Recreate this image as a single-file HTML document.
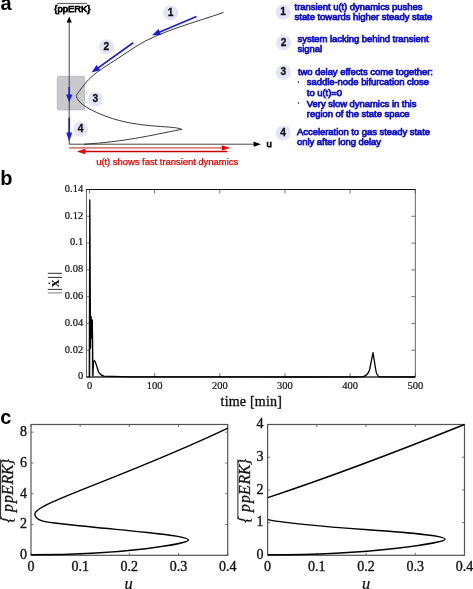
<!DOCTYPE html>
<html><head><meta charset="utf-8"><style>
html,body{margin:0;padding:0;background:#fff;width:473px;height:589px;overflow:hidden}
#w{will-change:transform;width:473px;height:589px}
svg{display:block}
</style></head><body><div id="w">
<svg width="473" height="589" viewBox="0 0 473 589">
<text x="0.5" y="9.8" style="font-family:'Liberation Sans',sans-serif;font-weight:bold;font-size:20px" fill="#000">a</text>
<text x="0.3" y="184.6" style="font-family:'Liberation Sans',sans-serif;font-weight:bold;font-size:20px" fill="#000">b</text>
<text x="0.3" y="424.3" style="font-family:'Liberation Sans',sans-serif;font-weight:bold;font-size:20px" fill="#000">c</text>
<rect x="57.3" y="76.3" width="27.4" height="33.6" rx="1.5" fill="#c9c9cc" stroke="#b0b0b8" stroke-width="0.7"/>
<line x1="69.2" y1="21" x2="69.2" y2="144.3" stroke="#333" stroke-width="0.9"/>
<path d="M69.2,16.6 L66.6,22.6 L71.8,22.6 Z" fill="#000"/>
<line x1="69.2" y1="144.2" x2="255" y2="144.2" stroke="#333" stroke-width="0.9"/>
<path d="M261,144.2 L253.6,141.6 L253.6,146.8 Z" fill="#000"/>
<text x="266.5" y="147.3" style="font-family:'Liberation Sans',sans-serif;font-weight:normal;letter-spacing:-0.05px;stroke-width:0.75px;font-size:9.5px" fill="#000" stroke="#000">u</text>
<text x="54.3" y="12.1" style="font-family:'Liberation Sans',sans-serif;font-weight:normal;letter-spacing:-0.05px;stroke-width:0.75px;font-size:9.5px" fill="#000" stroke="#000">{ppERK}</text>
<line x1="57" y1="3.5" x2="87" y2="3.5" stroke="#666" stroke-width="1.2"/>
<path d="M223.60,12.40 C199.10,21.22 158.37,31.45 135.00,47.10 C93.99,74.57 92.49,72.08 76.30,95.50 C77.45,101.48 83.19,106.61 99.20,113.60 C135.25,129.34 171.29,124.76 181.80,129.30" fill="none" stroke="#222" stroke-width="0.9"/>
<path d="M181.80,129.30 C147.15,136.19 124.87,141.56 84.00,144.20" fill="none" stroke="#222" stroke-width="0.9"/>
<line x1="196.50" y1="16.50" x2="157.48" y2="32.98" stroke="#1c1cd4" stroke-width="1.7"/><path d="M152.00,35.30 L158.57,29.00 L161.09,34.99 Z" fill="#1c1cd4"/>
<line x1="133.20" y1="42.70" x2="96.34" y2="69.13" stroke="#1c1cd4" stroke-width="1.7"/><path d="M91.50,72.60 L96.51,65.01 L100.30,70.29 Z" fill="#1c1cd4"/>
<line x1="69.20" y1="87.00" x2="69.20" y2="97.00" stroke="#1c1cd4" stroke-width="1.7"/><path d="M69.20,102.60 L66.05,94.60 L72.35,94.60 Z" fill="#1c1cd4"/>
<line x1="69.20" y1="117.80" x2="69.20" y2="135.10" stroke="#1c1cd4" stroke-width="1.7"/><path d="M69.20,141.40 L66.20,132.40 L72.20,132.40 Z" fill="#1c1cd4"/>
<line x1="69" y1="147.9" x2="224" y2="147.9" stroke="#d88282" stroke-width="1.7"/>
<path d="M230.4,147.9 L221.8,145.2 L221.8,150.6 Z" fill="#f00000"/>
<line x1="83" y1="151.5" x2="227" y2="151.5" stroke="#c80000" stroke-width="1.7"/>
<path d="M76.8,151.5 L85,148.7 L85,154.3 Z" fill="#f00000"/>
<text x="96.2" y="165.4" style="font-family:'Liberation Sans',sans-serif;font-weight:normal;letter-spacing:-0.05px;stroke-width:0.75px;font-size:9.5px;stroke-width:0.25px;letter-spacing:-0.05px" fill="#e00000" stroke="#e00000">u(t) shows fast transient dynamics</text>
<circle cx="170.6" cy="12.7" r="7.5" fill="#e4e4f6"/><text x="170.6" y="15.7" text-anchor="middle" style="font-family:'Liberation Sans',sans-serif;font-weight:bold;font-size:10.2px;stroke-width:0.3px" fill="#111" stroke="#111">1</text>
<circle cx="106.4" cy="46.7" r="7.5" fill="#e4e4f6"/><text x="106.4" y="49.7" text-anchor="middle" style="font-family:'Liberation Sans',sans-serif;font-weight:bold;font-size:10.2px;stroke-width:0.3px" fill="#111" stroke="#111">2</text>
<circle cx="95.4" cy="99" r="7.5" fill="#e4e4f6"/><text x="95.4" y="102.0" text-anchor="middle" style="font-family:'Liberation Sans',sans-serif;font-weight:bold;font-size:10.2px;stroke-width:0.3px" fill="#111" stroke="#111">3</text>
<circle cx="80.5" cy="129.2" r="7.5" fill="#e4e4f6"/><text x="80.5" y="132.2" text-anchor="middle" style="font-family:'Liberation Sans',sans-serif;font-weight:bold;font-size:10.2px;stroke-width:0.3px" fill="#111" stroke="#111">4</text>
<circle cx="283.2" cy="12.2" r="7.5" fill="#e4e4f6"/><text x="283.2" y="15.2" text-anchor="middle" style="font-family:'Liberation Sans',sans-serif;font-weight:bold;font-size:10.2px;stroke-width:0.3px" fill="#111" stroke="#111">1</text>
<circle cx="283.5" cy="42.7" r="7.5" fill="#e4e4f6"/><text x="283.5" y="45.7" text-anchor="middle" style="font-family:'Liberation Sans',sans-serif;font-weight:bold;font-size:10.2px;stroke-width:0.3px" fill="#111" stroke="#111">2</text>
<circle cx="283.4" cy="72.4" r="7.5" fill="#e4e4f6"/><text x="283.4" y="75.4" text-anchor="middle" style="font-family:'Liberation Sans',sans-serif;font-weight:bold;font-size:10.2px;stroke-width:0.3px" fill="#111" stroke="#111">3</text>
<circle cx="283.2" cy="132.9" r="7.5" fill="#e4e4f6"/><text x="283.2" y="135.9" text-anchor="middle" style="font-family:'Liberation Sans',sans-serif;font-weight:bold;font-size:10.2px;stroke-width:0.3px" fill="#111" stroke="#111">4</text>
<text x="294.6" y="10.1" style="font-family:'Liberation Sans',sans-serif;font-weight:normal;letter-spacing:-0.05px;stroke-width:0.75px;font-size:9.5px" fill="#1414c8" stroke="#1414c8">transient u(t) dynamics pushes</text>
<text x="294.6" y="20.1" style="font-family:'Liberation Sans',sans-serif;font-weight:normal;letter-spacing:-0.05px;stroke-width:0.75px;font-size:9.5px" fill="#1414c8" stroke="#1414c8">state towards higher steady state</text>
<text x="297.6" y="41.6" style="font-family:'Liberation Sans',sans-serif;font-weight:normal;letter-spacing:-0.05px;stroke-width:0.75px;font-size:9.5px" fill="#1414c8" stroke="#1414c8">system lacking behind transient</text>
<text x="297.6" y="51.6" style="font-family:'Liberation Sans',sans-serif;font-weight:normal;letter-spacing:-0.05px;stroke-width:0.75px;font-size:9.5px" fill="#1414c8" stroke="#1414c8">signal</text>
<text x="297.9" y="74.8" style="font-family:'Liberation Sans',sans-serif;font-weight:normal;letter-spacing:-0.05px;stroke-width:0.75px;font-size:9.5px" fill="#1414c8" stroke="#1414c8">two delay effects come together:</text>
<text x="306.8" y="85.4" style="font-family:'Liberation Sans',sans-serif;font-weight:normal;letter-spacing:-0.05px;stroke-width:0.75px;font-size:9.5px" fill="#1414c8" stroke="#1414c8">saddle-node bifurcation close</text>
<text x="306.8" y="95.5" style="font-family:'Liberation Sans',sans-serif;font-weight:normal;letter-spacing:-0.05px;stroke-width:0.75px;font-size:9.5px" fill="#1414c8" stroke="#1414c8">to u(t)=0</text>
<text x="306.8" y="106.8" style="font-family:'Liberation Sans',sans-serif;font-weight:normal;letter-spacing:-0.05px;stroke-width:0.75px;font-size:9.5px" fill="#1414c8" stroke="#1414c8">Very slow dynamics in this</text>
<text x="306.8" y="116.7" style="font-family:'Liberation Sans',sans-serif;font-weight:normal;letter-spacing:-0.05px;stroke-width:0.75px;font-size:9.5px" fill="#1414c8" stroke="#1414c8">region of the state space</text>
<text x="297.0" y="135.3" style="font-family:'Liberation Sans',sans-serif;font-weight:normal;letter-spacing:-0.05px;stroke-width:0.75px;font-size:9.5px" fill="#1414c8" stroke="#1414c8">Acceleration to gas steady state</text>
<text x="297.0" y="145.4" style="font-family:'Liberation Sans',sans-serif;font-weight:normal;letter-spacing:-0.05px;stroke-width:0.75px;font-size:9.5px" fill="#1414c8" stroke="#1414c8">only after long delay</text>
<ellipse cx="298.4" cy="82.1" rx="0.75" ry="1.05" fill="#555"/>
<ellipse cx="298.5" cy="103" rx="0.75" ry="1.05" fill="#555"/>
<line x1="89.50" y1="377" x2="89.50" y2="373" stroke="#555" stroke-width="0.8"/>
<line x1="89.50" y1="189.5" x2="89.50" y2="193.5" stroke="#555" stroke-width="0.8"/>
<text x="89.50" y="389.4" text-anchor="middle" style="font-family:'Liberation Serif',serif;font-size:10.5px;stroke-width:0.2px" fill="#111" stroke="#111">0</text>
<line x1="154.66" y1="377" x2="154.66" y2="373" stroke="#555" stroke-width="0.8"/>
<line x1="154.66" y1="189.5" x2="154.66" y2="193.5" stroke="#555" stroke-width="0.8"/>
<text x="154.66" y="389.4" text-anchor="middle" style="font-family:'Liberation Serif',serif;font-size:10.5px;stroke-width:0.2px" fill="#111" stroke="#111">100</text>
<line x1="219.82" y1="377" x2="219.82" y2="373" stroke="#555" stroke-width="0.8"/>
<line x1="219.82" y1="189.5" x2="219.82" y2="193.5" stroke="#555" stroke-width="0.8"/>
<text x="219.82" y="389.4" text-anchor="middle" style="font-family:'Liberation Serif',serif;font-size:10.5px;stroke-width:0.2px" fill="#111" stroke="#111">200</text>
<line x1="284.98" y1="377" x2="284.98" y2="373" stroke="#555" stroke-width="0.8"/>
<line x1="284.98" y1="189.5" x2="284.98" y2="193.5" stroke="#555" stroke-width="0.8"/>
<text x="284.98" y="389.4" text-anchor="middle" style="font-family:'Liberation Serif',serif;font-size:10.5px;stroke-width:0.2px" fill="#111" stroke="#111">300</text>
<line x1="350.14" y1="377" x2="350.14" y2="373" stroke="#555" stroke-width="0.8"/>
<line x1="350.14" y1="189.5" x2="350.14" y2="193.5" stroke="#555" stroke-width="0.8"/>
<text x="350.14" y="389.4" text-anchor="middle" style="font-family:'Liberation Serif',serif;font-size:10.5px;stroke-width:0.2px" fill="#111" stroke="#111">400</text>
<line x1="415.30" y1="377" x2="415.30" y2="373" stroke="#555" stroke-width="0.8"/>
<line x1="415.30" y1="189.5" x2="415.30" y2="193.5" stroke="#555" stroke-width="0.8"/>
<text x="415.30" y="389.4" text-anchor="middle" style="font-family:'Liberation Serif',serif;font-size:10.5px;stroke-width:0.2px" fill="#111" stroke="#111">500</text>
<line x1="86.5" y1="377.00" x2="90.5" y2="377.00" stroke="#555" stroke-width="0.8"/>
<line x1="415.3" y1="377.00" x2="411.3" y2="377.00" stroke="#555" stroke-width="0.8"/>
<text x="83.2" y="379.40" text-anchor="end" style="font-family:'Liberation Serif',serif;font-size:10.5px;stroke-width:0.2px" fill="#111" stroke="#111">0</text>
<line x1="86.5" y1="350.21" x2="90.5" y2="350.21" stroke="#555" stroke-width="0.8"/>
<line x1="415.3" y1="350.21" x2="411.3" y2="350.21" stroke="#555" stroke-width="0.8"/>
<text x="83.2" y="352.61" text-anchor="end" style="font-family:'Liberation Serif',serif;font-size:10.5px;stroke-width:0.2px" fill="#111" stroke="#111">0.02</text>
<line x1="86.5" y1="323.43" x2="90.5" y2="323.43" stroke="#555" stroke-width="0.8"/>
<line x1="415.3" y1="323.43" x2="411.3" y2="323.43" stroke="#555" stroke-width="0.8"/>
<text x="83.2" y="325.83" text-anchor="end" style="font-family:'Liberation Serif',serif;font-size:10.5px;stroke-width:0.2px" fill="#111" stroke="#111">0.04</text>
<line x1="86.5" y1="296.64" x2="90.5" y2="296.64" stroke="#555" stroke-width="0.8"/>
<line x1="415.3" y1="296.64" x2="411.3" y2="296.64" stroke="#555" stroke-width="0.8"/>
<text x="83.2" y="299.04" text-anchor="end" style="font-family:'Liberation Serif',serif;font-size:10.5px;stroke-width:0.2px" fill="#111" stroke="#111">0.06</text>
<line x1="86.5" y1="269.86" x2="90.5" y2="269.86" stroke="#555" stroke-width="0.8"/>
<line x1="415.3" y1="269.86" x2="411.3" y2="269.86" stroke="#555" stroke-width="0.8"/>
<text x="83.2" y="272.26" text-anchor="end" style="font-family:'Liberation Serif',serif;font-size:10.5px;stroke-width:0.2px" fill="#111" stroke="#111">0.08</text>
<line x1="86.5" y1="243.07" x2="90.5" y2="243.07" stroke="#555" stroke-width="0.8"/>
<line x1="415.3" y1="243.07" x2="411.3" y2="243.07" stroke="#555" stroke-width="0.8"/>
<text x="83.2" y="245.47" text-anchor="end" style="font-family:'Liberation Serif',serif;font-size:10.5px;stroke-width:0.2px" fill="#111" stroke="#111">0.1</text>
<line x1="86.5" y1="216.28" x2="90.5" y2="216.28" stroke="#555" stroke-width="0.8"/>
<line x1="415.3" y1="216.28" x2="411.3" y2="216.28" stroke="#555" stroke-width="0.8"/>
<text x="83.2" y="218.68" text-anchor="end" style="font-family:'Liberation Serif',serif;font-size:10.5px;stroke-width:0.2px" fill="#111" stroke="#111">0.12</text>
<line x1="86.5" y1="189.50" x2="90.5" y2="189.50" stroke="#555" stroke-width="0.8"/>
<line x1="415.3" y1="189.50" x2="411.3" y2="189.50" stroke="#555" stroke-width="0.8"/>
<text x="83.2" y="191.90" text-anchor="end" style="font-family:'Liberation Serif',serif;font-size:10.5px;stroke-width:0.2px" fill="#111" stroke="#111">0.14</text>
<rect x="86.5" y="189.5" width="328.8" height="187.5" fill="none" stroke="#555" stroke-width="0.9"/>
<line x1="86.5" y1="189.5" x2="415.3" y2="189.5" stroke="#111" stroke-width="1.1"/>
<line x1="86.5" y1="377" x2="415.3" y2="377" stroke="#111" stroke-width="1.1"/>
<text x="251.3" y="405.5" text-anchor="middle" style="font-family:'Liberation Serif',serif;font-size:14px;stroke-width:0.35px;letter-spacing:0.2px" fill="#111" stroke="#111">time [min]</text>
<line x1="47.8" y1="273.3" x2="62" y2="273.3" stroke="#222" stroke-width="0.95"/>
<line x1="47.8" y1="277.4" x2="62" y2="277.4" stroke="#222" stroke-width="0.95"/>
<line x1="47.8" y1="289.4" x2="62" y2="289.4" stroke="#222" stroke-width="0.95"/>
<line x1="47.8" y1="292.9" x2="62" y2="292.9" stroke="#777" stroke-width="0.95"/>
<g transform="translate(59.2,283.4) rotate(-90)"><text x="0" y="0" text-anchor="middle" style="font-family:'Liberation Serif',serif;font-weight:bold;font-size:15.5px" fill="#111">x</text></g>
<circle cx="49.3" cy="283.3" r="0.9" fill="#222"/>
<line x1="90.8" y1="345" x2="90.8" y2="377" stroke="#888" stroke-width="0.8"/>
<line x1="92.7" y1="335" x2="92.7" y2="377" stroke="#888" stroke-width="0.8"/>
<path d="M89.3,377 L89.8,199.8 L90.5,348 L91.1,316.3 L91.8,338 L92.3,320 L92.9,376 C93.3,366 93.6,360.5 94.3,360.5 C95.3,360.5 96.5,366 98.6,372 C100,374.5 102,375.8 104,376.2 L130,376.8 L300,377 L362,376.8 C366,376.5 368,375 369.5,370 L373,352.7 L375.8,370 C376.5,375 377.5,376.6 380,376.9 L415,377" fill="none" stroke="#000" stroke-width="1.3" stroke-linejoin="round"/>
<line x1="31.00" y1="555.3" x2="31.00" y2="552.8" stroke="#555" stroke-width="0.8"/><line x1="31.00" y1="424.5" x2="31.00" y2="427.0" stroke="#555" stroke-width="0.8"/><text x="31.00" y="571.4" text-anchor="middle" style="font-family:'Liberation Serif',serif;font-size:14px;stroke-width:0.35px" fill="#111" stroke="#111">0</text><line x1="80.18" y1="555.3" x2="80.18" y2="552.8" stroke="#555" stroke-width="0.8"/><line x1="80.18" y1="424.5" x2="80.18" y2="427.0" stroke="#555" stroke-width="0.8"/><text x="80.18" y="571.4" text-anchor="middle" style="font-family:'Liberation Serif',serif;font-size:14px;stroke-width:0.35px" fill="#111" stroke="#111">0.1</text><line x1="129.35" y1="555.3" x2="129.35" y2="552.8" stroke="#555" stroke-width="0.8"/><line x1="129.35" y1="424.5" x2="129.35" y2="427.0" stroke="#555" stroke-width="0.8"/><text x="129.35" y="571.4" text-anchor="middle" style="font-family:'Liberation Serif',serif;font-size:14px;stroke-width:0.35px" fill="#111" stroke="#111">0.2</text><line x1="178.53" y1="555.3" x2="178.53" y2="552.8" stroke="#555" stroke-width="0.8"/><line x1="178.53" y1="424.5" x2="178.53" y2="427.0" stroke="#555" stroke-width="0.8"/><text x="178.53" y="571.4" text-anchor="middle" style="font-family:'Liberation Serif',serif;font-size:14px;stroke-width:0.35px" fill="#111" stroke="#111">0.3</text><line x1="227.70" y1="555.3" x2="227.70" y2="552.8" stroke="#555" stroke-width="0.8"/><line x1="227.70" y1="424.5" x2="227.70" y2="427.0" stroke="#555" stroke-width="0.8"/><text x="227.70" y="571.4" text-anchor="middle" style="font-family:'Liberation Serif',serif;font-size:14px;stroke-width:0.35px" fill="#111" stroke="#111">0.4</text><line x1="31.0" y1="555.30" x2="33.5" y2="555.30" stroke="#555" stroke-width="0.8"/><line x1="227.7" y1="555.30" x2="225.2" y2="555.30" stroke="#555" stroke-width="0.8"/><text x="27.0" y="559.10" text-anchor="end" style="font-family:'Liberation Serif',serif;font-size:14px;stroke-width:0.35px" fill="#111" stroke="#111">0</text><line x1="31.0" y1="524.52" x2="33.5" y2="524.52" stroke="#555" stroke-width="0.8"/><line x1="227.7" y1="524.52" x2="225.2" y2="524.52" stroke="#555" stroke-width="0.8"/><text x="27.0" y="528.32" text-anchor="end" style="font-family:'Liberation Serif',serif;font-size:14px;stroke-width:0.35px" fill="#111" stroke="#111">2</text><line x1="31.0" y1="493.75" x2="33.5" y2="493.75" stroke="#555" stroke-width="0.8"/><line x1="227.7" y1="493.75" x2="225.2" y2="493.75" stroke="#555" stroke-width="0.8"/><text x="27.0" y="497.55" text-anchor="end" style="font-family:'Liberation Serif',serif;font-size:14px;stroke-width:0.35px" fill="#111" stroke="#111">4</text><line x1="31.0" y1="462.97" x2="33.5" y2="462.97" stroke="#555" stroke-width="0.8"/><line x1="227.7" y1="462.97" x2="225.2" y2="462.97" stroke="#555" stroke-width="0.8"/><text x="27.0" y="466.77" text-anchor="end" style="font-family:'Liberation Serif',serif;font-size:14px;stroke-width:0.35px" fill="#111" stroke="#111">6</text><line x1="31.0" y1="432.19" x2="33.5" y2="432.19" stroke="#555" stroke-width="0.8"/><line x1="227.7" y1="432.19" x2="225.2" y2="432.19" stroke="#555" stroke-width="0.8"/><text x="27.0" y="435.99" text-anchor="end" style="font-family:'Liberation Serif',serif;font-size:14px;stroke-width:0.35px" fill="#111" stroke="#111">8</text><rect x="31.0" y="424.5" width="196.7" height="130.79999999999995" fill="none" stroke="#555" stroke-width="1.2"/><path d="M188.40,540.00 C188.40,543.44 126.96,554.80 31.30,554.80" fill="none" stroke="#000" stroke-width="1.4"/><path d="M34.80,514.10 C34.80,521.93 48.80,522.31 68.10,524.50 C120.06,530.39 188.40,534.78 188.40,540.00" fill="none" stroke="#000" stroke-width="1.4"/><path d="M34.80,514.10 C34.80,503.22 123.16,478.02 227.90,428.20" fill="none" stroke="#000" stroke-width="1.4"/><text x="128.6" y="588.5" text-anchor="middle" style="font-family:'Liberation Serif',serif;font-size:16.5px;font-style:italic;stroke-width:0.25px" stroke="#111" fill="#111">u</text><g transform="translate(0.6,489.8) rotate(-90)"><text x="-32.9 -22.2 -13.2 -5.2 5.3 14.8 24.5" y="12.2" style="font-family:'Liberation Serif',serif;font-size:15.8px;font-style:italic;stroke-width:0.3px" fill="#111" stroke="#111">{ppERK}</text><line x1="-29.5" y1="0" x2="30.3" y2="0" stroke="#222" stroke-width="1"/></g>
<line x1="267.60" y1="555.3" x2="267.60" y2="552.8" stroke="#555" stroke-width="0.8"/><line x1="267.60" y1="424.5" x2="267.60" y2="427.0" stroke="#555" stroke-width="0.8"/><text x="267.60" y="571.4" text-anchor="middle" style="font-family:'Liberation Serif',serif;font-size:14px;stroke-width:0.35px" fill="#111" stroke="#111">0</text><line x1="316.83" y1="555.3" x2="316.83" y2="552.8" stroke="#555" stroke-width="0.8"/><line x1="316.83" y1="424.5" x2="316.83" y2="427.0" stroke="#555" stroke-width="0.8"/><text x="316.83" y="571.4" text-anchor="middle" style="font-family:'Liberation Serif',serif;font-size:14px;stroke-width:0.35px" fill="#111" stroke="#111">0.1</text><line x1="366.05" y1="555.3" x2="366.05" y2="552.8" stroke="#555" stroke-width="0.8"/><line x1="366.05" y1="424.5" x2="366.05" y2="427.0" stroke="#555" stroke-width="0.8"/><text x="366.05" y="571.4" text-anchor="middle" style="font-family:'Liberation Serif',serif;font-size:14px;stroke-width:0.35px" fill="#111" stroke="#111">0.2</text><line x1="415.27" y1="555.3" x2="415.27" y2="552.8" stroke="#555" stroke-width="0.8"/><line x1="415.27" y1="424.5" x2="415.27" y2="427.0" stroke="#555" stroke-width="0.8"/><text x="415.27" y="571.4" text-anchor="middle" style="font-family:'Liberation Serif',serif;font-size:14px;stroke-width:0.35px" fill="#111" stroke="#111">0.3</text><line x1="464.50" y1="555.3" x2="464.50" y2="552.8" stroke="#555" stroke-width="0.8"/><line x1="464.50" y1="424.5" x2="464.50" y2="427.0" stroke="#555" stroke-width="0.8"/><text x="464.50" y="571.4" text-anchor="middle" style="font-family:'Liberation Serif',serif;font-size:14px;stroke-width:0.35px" fill="#111" stroke="#111">0.4</text><line x1="267.6" y1="555.30" x2="270.1" y2="555.30" stroke="#555" stroke-width="0.8"/><line x1="464.5" y1="555.30" x2="462.0" y2="555.30" stroke="#555" stroke-width="0.8"/><text x="263.6" y="559.10" text-anchor="end" style="font-family:'Liberation Serif',serif;font-size:14px;stroke-width:0.35px" fill="#111" stroke="#111">0</text><line x1="267.6" y1="522.60" x2="270.1" y2="522.60" stroke="#555" stroke-width="0.8"/><line x1="464.5" y1="522.60" x2="462.0" y2="522.60" stroke="#555" stroke-width="0.8"/><text x="263.6" y="526.40" text-anchor="end" style="font-family:'Liberation Serif',serif;font-size:14px;stroke-width:0.35px" fill="#111" stroke="#111">1</text><line x1="267.6" y1="489.90" x2="270.1" y2="489.90" stroke="#555" stroke-width="0.8"/><line x1="464.5" y1="489.90" x2="462.0" y2="489.90" stroke="#555" stroke-width="0.8"/><text x="263.6" y="493.70" text-anchor="end" style="font-family:'Liberation Serif',serif;font-size:14px;stroke-width:0.35px" fill="#111" stroke="#111">2</text><line x1="267.6" y1="457.20" x2="270.1" y2="457.20" stroke="#555" stroke-width="0.8"/><line x1="464.5" y1="457.20" x2="462.0" y2="457.20" stroke="#555" stroke-width="0.8"/><text x="263.6" y="461.00" text-anchor="end" style="font-family:'Liberation Serif',serif;font-size:14px;stroke-width:0.35px" fill="#111" stroke="#111">3</text><line x1="267.6" y1="424.50" x2="270.1" y2="424.50" stroke="#555" stroke-width="0.8"/><line x1="464.5" y1="424.50" x2="462.0" y2="424.50" stroke="#555" stroke-width="0.8"/><text x="263.6" y="428.30" text-anchor="end" style="font-family:'Liberation Serif',serif;font-size:14px;stroke-width:0.35px" fill="#111" stroke="#111">4</text><rect x="267.6" y="424.5" width="196.89999999999998" height="130.79999999999995" fill="none" stroke="#555" stroke-width="1.2"/><path d="M267.90,519.60 C312.18,528.96 445.10,531.92 445.10,539.20" fill="none" stroke="#000" stroke-width="1.4"/><path d="M445.10,539.20 C445.10,542.40 375.86,554.80 267.90,554.80" fill="none" stroke="#000" stroke-width="1.4"/><path d="M267.90,497.60 C333.60,475.78 401.83,449.73 464.40,424.50" fill="none" stroke="#000" stroke-width="1.4"/><text x="366.1" y="588.5" text-anchor="middle" style="font-family:'Liberation Serif',serif;font-size:16.5px;font-style:italic;stroke-width:0.25px" stroke="#111" fill="#111">u</text><g transform="translate(237.9,489.8) rotate(-90)"><text x="-32.9 -22.2 -13.2 -5.2 5.3 14.8 24.5" y="12.2" style="font-family:'Liberation Serif',serif;font-size:15.8px;font-style:italic;stroke-width:0.3px" fill="#111" stroke="#111">{ppERK}</text><line x1="-29.5" y1="0" x2="30.3" y2="0" stroke="#222" stroke-width="1"/></g>
</svg>
</div></body></html>
